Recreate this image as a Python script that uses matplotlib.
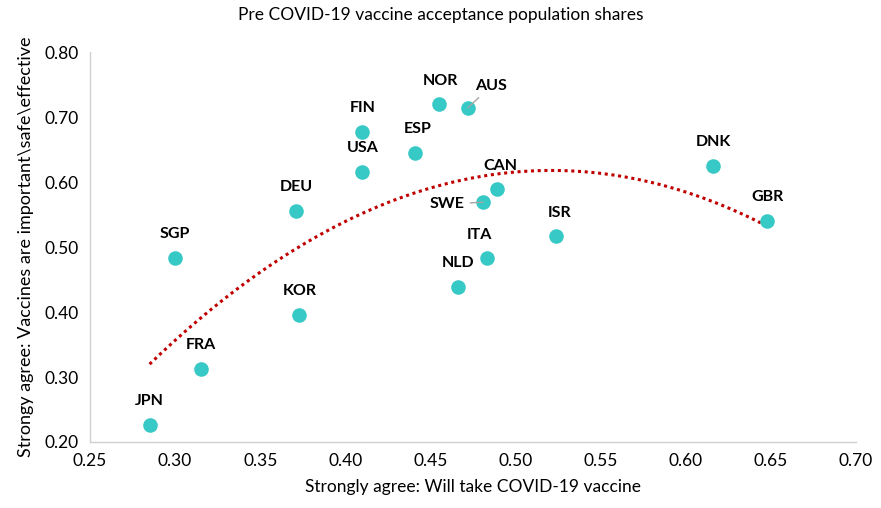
import numpy as np
import matplotlib
matplotlib.use("Agg")
import matplotlib.pyplot as plt

plt.rcParams["font.family"] = ["Lato", "DejaVu Sans"]

countries = ["JPN", "SGP", "FRA", "DEU", "KOR", "USA", "FIN", "ESP", "NOR", "AUS",
             "NLD", "ITA", "SWE", "CAN", "ISR", "DNK", "GBR"]
will_take = [0.285, 0.300, 0.315, 0.371, 0.373, 0.410, 0.410, 0.441, 0.455, 0.472,
             0.466, 0.483, 0.481, 0.489, 0.524, 0.616, 0.648]
safe_effective = [0.226, 0.483, 0.312, 0.555, 0.395, 0.615, 0.677, 0.645, 0.720, 0.714,
                  0.438, 0.483, 0.569, 0.589, 0.517, 0.625, 0.540]

# label offsets in pixels (dx, dy), leader line for crowded ones
offsets = {c: (0, 24) for c in countries}
offsets.update({"ESP": (3, 24), "NOR": (1, 23), "ITA": (-7, 23), "CAN": (4, 23),
                "ISR": (3, 23), "AUS": (23, 22), "SWE": (-36, -2)})
leaders = {"AUS", "SWE"}

fig = plt.figure(figsize=(8.81, 5.08), dpi=100)
ax = fig.add_axes([90 / 881, 1 - 442 / 508, (856 - 90) / 881, (442 - 52) / 508])

ax.scatter(will_take, safe_effective, s=110, color="#36C9C6", zorder=3, linewidths=0)

# second order polynomial trendline
coef = np.polyfit(will_take, safe_effective, 2)
xs = np.linspace(min(will_take), max(will_take), 200)
ax.plot(xs, np.polyval(coef, xs), color="#C00000", linestyle=(0, (1, 1.2)),
        linewidth=2.2, zorder=2)

for c, x, y in zip(countries, will_take, safe_effective):
    dx, dy = offsets[c]
    props = None
    if c in leaders:
        props = dict(arrowstyle="-", color="#A6A6A6", lw=1, shrinkA=2, shrinkB=0)
    ax.annotate(c, (x, y), xytext=(dx, dy), textcoords="offset pixels",
                ha="center", va="center", fontsize=11.5, fontweight="bold",
                color="#000000", arrowprops=props, zorder=4)

ax.set_xlim(0.25, 0.70)
ax.set_ylim(0.20, 0.80)
ax.set_xticks(np.arange(0.25, 0.701, 0.05))
ax.set_yticks(np.arange(0.20, 0.801, 0.10))
ax.xaxis.set_major_formatter(matplotlib.ticker.FormatStrFormatter("%.2f"))
ax.yaxis.set_major_formatter(matplotlib.ticker.FormatStrFormatter("%.2f"))
ax.tick_params(length=0, labelsize=12.5, colors="#000000", pad=8)

for s in ["top", "right"]:
    ax.spines[s].set_visible(False)
for s in ["left", "bottom"]:
    ax.spines[s].set_color("#D0D0D0")
    ax.spines[s].set_linewidth(1)

ax.set_xlabel("Strongly agree: Will take COVID-19 vaccine", fontsize=12.5, labelpad=7)
ax.set_ylabel("Strongy agree: Vaccines are important\\safe\\effective", fontsize=13, labelpad=8)
fig.text(0.5, 1 - 15 / 508, "Pre COVID-19 vaccine acceptance population shares",
         ha="center", va="center", fontsize=12.5)

fig.savefig("out.png", dpi=100)
